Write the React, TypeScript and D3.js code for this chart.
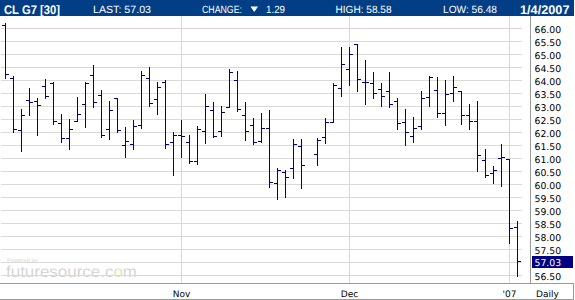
import React from "react";
import * as d3 from "d3";

// Daily OHLC, CL G7 (index 38 = holiday gap)
const opens: (number | null)[] = [
  66.12, 64.09, 62.08, 63.23, 63.19, 63.77, 63.9, 62.35, 61.77, 62.42,
  63.08, 64.19, 63.42, 62.12, 63.31, 61.5, 61.54, 62.27, 64.09, 63.27,
  63.92, 61.63, 61.9, 61.63, 60.87, 62.04, 62.85, 62.04, 62.96, 64.0,
  62.67, 62.28, 61.64, 62.15, 60.04, 60.47, 60.63, 61.46, null, 61.15,
  61.79, 62.38, 63.71, 64.44, 65.38, 63.92, 63.88, 63.67, 63.58, 63.19,
  62.38, 61.85, 62.23, 63.36, 63.62, 62.72, 63.49, 63.58, 62.67, 62.42,
  60.91, 60.42, 61.01, 60.97, 58.36,
];
const highs: (number | null)[] = [
  66.21, 64.15, 62.9, 63.71, 63.32, 64.05, 63.91, 62.71, 62.51, 63.36,
  63.91, 64.59, 63.62, 63.21, 63.32, 62.21, 62.47, 64.33, 64.51, 63.94,
  64.01, 62.01, 62.47, 61.9, 62.24, 63.47, 63.17, 63.01, 64.44, 64.36,
  63.17, 62.55, 62.74, 62.86, 60.62, 60.55, 61.74, 61.74, null, 61.77,
  62.54, 63.9, 65.28, 65.28, 65.38, 64.78, 64.32, 63.88, 64.32, 63.31,
  62.9, 62.59, 63.59, 64.17, 64.1, 64.0, 64.17, 63.58, 63.08, 63.19,
  61.35, 60.68, 61.55, 60.97, 58.58,
];
const lows: (number | null)[] = [
  64.06, 61.99, 61.26, 62.64, 61.87, 63.29, 62.31, 61.62, 61.33, 62.41,
  62.18, 62.95, 61.79, 61.72, 61.99, 61.03, 61.33, 62.14, 62.99, 62.68,
  61.37, 60.33, 61.03, 60.79, 60.77, 61.56, 61.81, 61.83, 62.96, 62.79,
  61.68, 61.54, 61.62, 59.87, 59.41, 59.49, 60.23, 59.85, null, 60.72,
  61.59, 62.38, 63.38, 63.79, 63.56, 63.06, 63.29, 62.99, 62.95, 62.1,
  61.49, 61.6, 62.13, 62.99, 62.59, 62.27, 63.19, 62.31, 62.12, 60.5,
  60.26, 60.03, 59.92, 57.73, 56.48,
];
const closes: (number | null)[] = [
  64.23, 62.12, 62.65, 63.15, 63.04, 63.38, 62.42, 61.77, 62.12, 62.69,
  63.9, 63.15, 61.88, 62.85, 62.06, 61.65, 62.24, 64.19, 63.12, 63.74,
  61.54, 61.9, 61.85, 60.9, 62.12, 63.01, 61.85, 62.77, 64.31, 62.88,
  62.04, 61.62, 62.15, 60.09, 60.54, 60.27, 61.55, 60.73, null, 61.69,
  62.38, 63.79, 64.62, 65.0, 64.05, 63.92, 63.5, 63.4, 63.08, 62.33,
  62.0, 62.14, 63.31, 64.12, 62.74, 63.46, 63.74, 62.67, 62.42, 61.12,
  60.33, 60.54, 61.04, 58.32, 57.03,
];

const priceTicks = [
  66.0, 65.5, 65.0, 64.5, 64.0, 63.5, 63.0, 62.5, 62.0, 61.5,
  61.0, 60.5, 60.0, 59.5, 59.0, 58.5, 58.0, 57.5, 57.0, 56.5,
];
const monthLabels = ["Nov", "Dec", "'07"];
const monthBarIndex = [22, 43, 63];

const symbolText = "CL G7 [30]";
const lastText = "LAST: 57.03";
const changeLabel = "CHANGE:";
const changeValue = "1.29";
const highText = "HIGH: 58.58";
const lowText = "LOW: 56.48";
const dateText = "1/4/2007";
const lastValue = 57.03;

const NAVY = "#000080";
const HEADER_BG = "#023e86";
const GRID = "#d9d9d9";
const AXIS = "#9a9a9a";

export default function App() {
  const x = d3.scaleLinear().domain([0, 64]).range([5.5, 517.5]);
  const y = d3.scaleLinear().domain([56.5, 66]).range([275.5, 28.5]);
  const row = (p: number) => Math.round(y(p) - 0.5);
  const col = (i: number) => Math.round(x(i) - 0.5);

  const lastRow = row(lastValue);

  return (
    <div style={{ position: "absolute", left: 0, top: 0 }}>
      <svg width={575} height={300} style={{ display: "block" }} shapeRendering="crispEdges">
        <rect x={0} y={0} width={575} height={300} fill="#fff" />
        {/* header */}
        <rect x={0} y={0} width={574} height={16} fill={HEADER_BG} />
        <g fill="#fff" fontFamily="'Liberation Sans', Arial, sans-serif" textRendering="geometricPrecision">
          <text x={4} y={13.5} fontSize={12.5} fontWeight="bold" textLength={56} lengthAdjust="spacingAndGlyphs">{symbolText}</text>
          <text x={93} y={13.3} fontSize={10.5} textLength={58} lengthAdjust="spacingAndGlyphs">{lastText}</text>
          <text x={202} y={13.3} fontSize={10.5} textLength={40} lengthAdjust="spacingAndGlyphs">{changeLabel}</text>
          <path d="M250.5,6.5 L258,6.5 L254.25,12 Z" fill="#fff" shapeRendering="auto" />
          <text x={266} y={13.3} fontSize={10.5} textLength={19} lengthAdjust="spacingAndGlyphs">{changeValue}</text>
          <text x={335.5} y={13.3} fontSize={10.5} textLength={56} lengthAdjust="spacingAndGlyphs">{highText}</text>
          <text x={443} y={13.3} fontSize={10.5} textLength={54} lengthAdjust="spacingAndGlyphs">{lowText}</text>
          <text x={520} y={13.5} fontSize={12.5} fontWeight="bold" textLength={49.5} lengthAdjust="spacingAndGlyphs">{dateText}</text>
        </g>

        {/* watermark */}
        <g fontFamily="'Liberation Sans', Arial, sans-serif" textRendering="geometricPrecision">
          <text x={7} y={262} fontSize={5.5} fontWeight="bold" fill="#e2e2e2">Powered by</text>
          <text x={6} y={276.5} fontSize={16} fill="#d6d6d6" textLength={131} lengthAdjust="spacingAndGlyphs">
            futuresource.c<tspan fill="#dfe6b8">o</tspan>m
          </text>
        </g>

        {/* horizontal grid */}
        {priceTicks.map((p) => (
          <rect key={"g" + p} x={1} y={row(p)} width={521} height={1} fill={GRID} />
        ))}
        {/* month grid */}
        {monthBarIndex.map((i) => (
          <rect key={"m" + i} x={col(i)} y={16} width={1} height={267} fill={GRID} />
        ))}

        {/* OHLC bars */}
        <g fill={NAVY}>
          {opens.map((o, i) => {
            const h = highs[i], l = lows[i], c = closes[i];
            if (o == null || h == null || l == null || c == null) return null;
            const cx = col(i);
            const top = row(h);
            const bot = row(l);
            return (
              <g key={"b" + i}>
                <rect x={cx} y={top} width={1} height={bot - top + 1} />
                <rect x={cx - 3} y={row(o)} width={3} height={1} />
                <rect x={cx + 1} y={row(c)} width={3} height={1} />
              </g>
            );
          })}
        </g>

        {/* frame / axes */}
        <rect x={530} y={16} width={1} height={268} fill={AXIS} />
        <rect x={0} y={283} width={574} height={1} fill={AXIS} />
        <rect x={0} y={299} width={574} height={1} fill={AXIS} />
        <rect x={573} y={283} width={1} height={17} fill={AXIS} />

        {/* right axis labels */}
        <g fontFamily="'DejaVu Sans', Verdana, sans-serif" fontSize={9.3} fill="#000" textRendering="geometricPrecision">
          {priceTicks.map((p) =>
            Math.abs(row(p) - lastRow) < 8 ? null : (
              <text key={"t" + p} x={534.5} y={row(p) + 4.5}>{p.toFixed(2)}</text>
            )
          )}
        </g>
        <rect x={532} y={lastRow - 5} width={41} height={12} fill={NAVY} />
        <text x={534.5} y={lastRow + 4.5} fontFamily="'DejaVu Sans', Verdana, sans-serif" fontSize={9.3} fill="#fff" textRendering="geometricPrecision">
          {lastValue.toFixed(2)}
        </text>

        {/* bottom labels */}
        <g fontFamily="'DejaVu Sans', Verdana, sans-serif" fontSize={9} fill="#000" textAnchor="middle" textRendering="geometricPrecision">
          {monthBarIndex.map((i, k) => (
            <text key={"l" + i} x={x(i)} y={297}>{monthLabels[k]}</text>
          ))}
          <text x={547.5} y={297}>Daily</text>
        </g>
      </svg>
    </div>
  );
}
